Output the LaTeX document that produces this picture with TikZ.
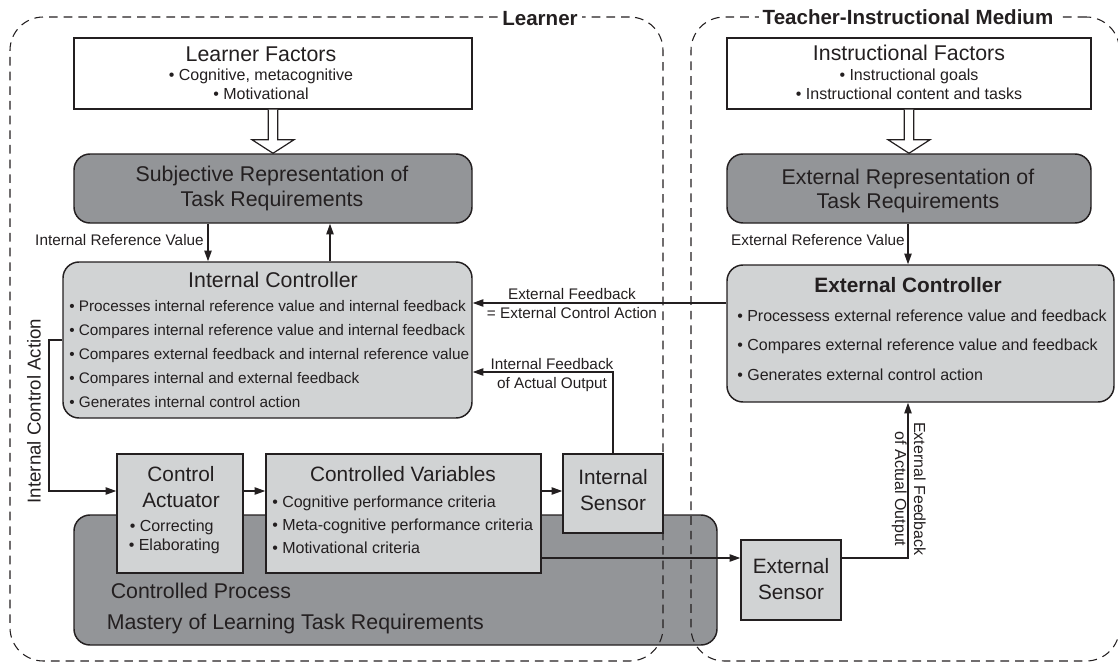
\documentclass[tikz,border=0pt]{standalone}
\usepackage{fontspec}
\setmainfont{Liberation Sans}
\usetikzlibrary{fit,calc,arrows.meta}
\definecolor{ink}{HTML}{231F20}
\definecolor{darkfill}{HTML}{939598}
\definecolor{lightfill}{HTML}{D1D3D4}
\begin{document}
\begin{tikzpicture}[x=0.75pt,y=-0.75pt,
  box/.style={draw=ink, line width=1.1pt, inner sep=0pt},
  rbox/.style={box, rounded corners=12pt},
  region/.style={draw=ink, line width=0.8pt, dash pattern=on 6.5pt off 4.5pt,
    rounded corners=25pt, inner sep=0pt},
  arr/.style={draw=ink, line width=1pt, -{Triangle[length=8pt,width=5.5pt]}},
  conn/.style={draw=ink, line width=1pt},
  hollow/.style={draw=ink, line width=0.9pt, fill=white, line join=miter},
  t/.style={text=ink, inner sep=0pt, anchor=base},
  tl/.style={t, anchor=base west},
  tr/.style={t, anchor=base east},
  fA/.style={font=\fontsize{16pt}{19pt}\selectfont},
  fB/.style={font=\fontsize{15.6pt}{19pt}\selectfont},
  fC/.style={font=\fontsize{12pt}{14pt}\selectfont},
  fD/.style={font=\fontsize{11.5pt}{14pt}\selectfont},
  fE/.style={font=\fontsize{14pt}{17pt}\selectfont},
  ttl/.style={t, fill=white, inner sep=3pt, font=\fontsize{15.4pt}{18pt}\bfseries\selectfont},
]
\useasboundingbox (0,0) rectangle (1118,664);

% controlled process (lies under the region frames)
\node[rbox, fill=darkfill, fit={(74,515) (717,645)}] (cp) {};
\node[tl, fA] (cp1) at (110.5,598.7) {Controlled Process};
\node[tl, fA] (cp2) at (106.5,629.7) {Mastery of Learning Task Requirements};

% dashed frames of the two systems
\node[region, fit={(10,17) (663,661)}] (learner) {};
\node[region, fit={(691,17) (1119.5,661)}] (teacher) {};
\node[ttl] (learnerT) at (540,25) {Learner};
\node[ttl] (teacherT) at (908,24.5) {Teacher-Instructional Medium};

% ---------------- learner side ----------------
\node[box, fill=white, fit={(74,38) (472,109)}] (lf) {};
\node[t, fA] (lfT) at (261,61.7) {Learner Factors};
\node[t, fC] (lf1) at (261,80) {• Cognitive, metacognitive};
\node[t, fC] (lf2) at (261,99.3) {• Motivational};

\node[rbox, fill=darkfill, fit={(74,154) (472,223)}] (sr) {};
\node[t, fA] (sr1) at (272,181) {Subjective Representation of};
\node[t, fA] (sr2) at (272,206.7) {Task Requirements};

\node[rbox, fill=lightfill, fit={(63,262) (472,418)}] (ic) {};
\node[t, fA] (icT) at (273,287) {Internal Controller};
\node[tl, fD] (ic1) at (69,311) {• Processes internal reference value and internal feedback};
\node[tl, fD] (ic2) at (69,335) {• Compares internal reference value and internal feedback};
\node[tl, fD] (ic3) at (69,359) {• Compares external feedback and internal reference value};
\node[tl, fD] (ic4) at (69,383) {• Compares internal and external feedback};
\node[tl, fD] (ic5) at (69,407) {• Generates internal control action};

\node[box, fill=lightfill, fit={(117,454) (243,573)}] (ca) {};
\node[t, fB] (ca1) at (181,481) {Control};
\node[t, fB] (ca2) at (181,507) {Actuator};
\node[tl, fC] (ca3) at (129.5,531) {• Correcting};
\node[tl, fC] (ca4) at (128.5,550) {• Elaborating};

\node[box, fill=lightfill, fit={(266,454) (541,573)}] (cv) {};
\node[t, fB] (cvT) at (403,481) {Controlled Variables};
\node[tl, fC] (cv1) at (272,507.7) {• Cognitive performance criteria};
\node[tl, fC] (cv2) at (272,530.7) {• Meta-cognitive performance criteria};
\node[tl, fC] (cv3) at (272,553) {• Motivational criteria};

\node[box, fill=lightfill, fit={(563,454) (663,533)}] (is) {};
\node[t, fB] (is1) at (613,484.3) {Internal};
\node[t, fB] (is2) at (613,510.3) {Sensor};

% ---------------- teacher side ----------------
\node[box, fill=white, fit={(727,38) (1091,109)}] (if) {};
\node[t, fA] (ifT) at (909,60.7) {Instructional Factors};
\node[t, fC] (if1) at (909,80) {• Instructional goals};
\node[t, fC] (if2) at (909,99) {• Instructional content and tasks};

\node[rbox, fill=darkfill, fit={(727,154) (1091,223)}] (er) {};
\node[t, fA] (er1) at (908,184.3) {External Representation of};
\node[t, fA] (er2) at (908,208.3) {Task Requirements};

\node[rbox, fill=lightfill, fit={(727,265) (1114,402)}] (ec) {};
\node[t, fB, font=\fontsize{15.6pt}{19pt}\bfseries\selectfont] (ecT) at (908,292.3) {External Controller};
\node[tl, fC] (ec1) at (737,321) {• Processess external reference value and feedback};
\node[tl, fC] (ec2) at (737,350.7) {• Compares external reference value and feedback};
\node[tl, fC] (ec3) at (737,380) {• Generates external control action};

\node[box, fill=lightfill, fit={(741,540) (841,620)}] (es) {};
\node[t, fB] (es1) at (791,573.3) {External};
\node[t, fB] (es2) at (791,599) {Sensor};

% ---------------- connectors ----------------
% wide hollow arrows from the factors to the representations
\draw[hollow] ($(lf.south)+(-4.7,0)$) -- ($(lf.south)+(-4.7,30)$) -- ($(lf.south)+(-21,30)$)
  -- (sr.north) -- ($(lf.south)+(21,30)$) -- ($(lf.south)+(4.7,30)$) -- ($(lf.south)+(4.7,0)$);
\draw[hollow] ($(if.south)+(-4.7,0)$) -- ($(if.south)+(-4.7,30)$) -- ($(if.south)+(-21,30)$)
  -- (er.north) -- ($(if.south)+(21,30)$) -- ($(if.south)+(4.7,30)$) -- ($(if.south)+(4.7,0)$);

\coordinate (xIRV) at (208,0);
\coordinate (xUP) at (330,0);
\coordinate (xERV) at (908,0);
\coordinate (yEF) at (0,303);
\coordinate (yIF) at (0,372);
\coordinate (xIF) at (613,0);
\coordinate (yICA) at (0,340);
\coordinate (xICA) at (49,0);
\coordinate (yMain) at (0,491);
\coordinate (yOut) at (0,558);

\draw[arr] (sr.south -| xIRV) -- (ic.north -| xIRV);
\node[tr, fD] (irvL) at (204,245) {Internal Reference Value};
\draw[arr] (ic.north -| xUP) -- (sr.south -| xUP);

\draw[arr] (er.south -| xERV) -- (ec.north -| xERV);
\node[tr, fD] (ervL) at (905,245) {External Reference Value};

\draw[arr] (ec.west |- yEF) -- (ic.east |- yEF);
\node[t, fD] (efL1) at (572,299.3) {External Feedback};
\node[t, fD] (efL2) at (572,318.3) {= External Control Action};

\draw[arr] (is.north -| xIF) -- (xIF |- yIF) -- (ic.east |- yIF);
\node[t, fD] (ifL1) at (552,369.3) {Internal Feedback};
\node[t, fD] (ifL2) at (552,388.7) {of Actual Output};

\draw[arr] (ic.west |- yICA) -- (xICA |- yICA) -- (xICA |- yMain) -- (ca.west |- yMain);
\node[t, fE, rotate=90] (icaL) at (40.5,411) {Internal Control Action};

\draw[arr] (ca.east |- yMain) -- (cv.west |- yMain);
\draw[arr] (cv.east |- yMain) -- (is.west |- yMain);

\draw[arr] (cv.east |- yOut) -- (es.west |- yOut);
\draw[arr] (es.east |- yOut) -- (xERV |- yOut) -- (ec.south -| xERV);
\node[t, fC, rotate=-90] (efoL1) at (914,489) {External Feedback};
\node[t, fC, rotate=-90] (efoL2) at (895,489) {of Actual Output};
\end{tikzpicture}
\end{document}
